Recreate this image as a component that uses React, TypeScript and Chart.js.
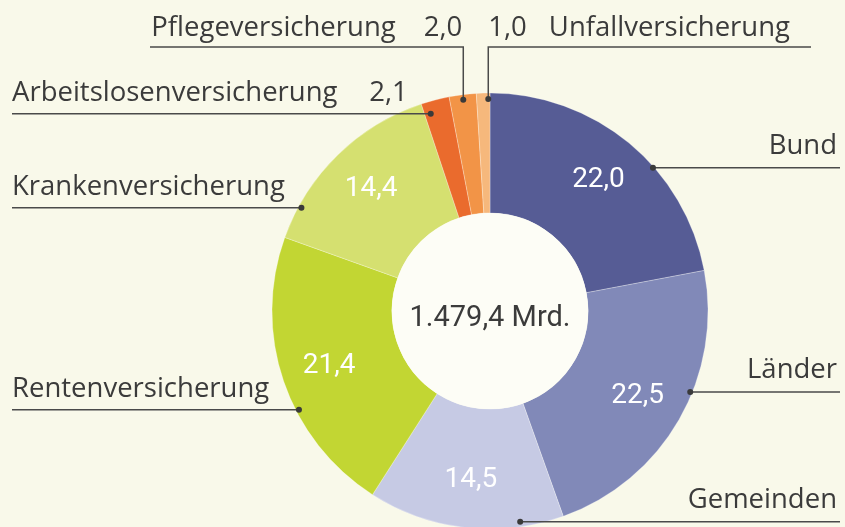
import React, { useEffect, useRef } from "react";
import { Chart, registerables } from "chart.js";

Chart.register(...registerables);

const categories = [
  "Bund",
  "Länder",
  "Gemeinden",
  "Rentenversicherung",
  "Krankenversicherung",
  "Arbeitslosenversicherung",
  "Pflegeversicherung",
  "Unfallversicherung",
];
const shares = [22.0, 22.5, 14.5, 21.4, 14.4, 2.1, 2.0, 1.0];
const valueLabels = ["22,0", "22,5", "14,5", "21,4", "14,4", "2,1", "2,0", "1,0"];
const centerLabel = "1.479,4 Mrd.";

const colors = [
  "#565c95",
  "#8189b8",
  "#c6cae4",
  "#c2d633",
  "#d5e070",
  "#ea6b2d",
  "#f29447",
  "#f6b87c",
];

// annotation layout (label placement only)
const leaderFrac = [0.614, 0.404, 0.22, 0.39, 0.173, 0.22, 0.5, 0.87];
const leaderInset = [1, 2, 5, 3, 3, 12, 5, 6];
const leaderSide = ["right", "right", "right", "left", "left", "left", "topLeft", "topRight"];

const BG = "#f9f9ea";
const TEXT = "#3b3b3b";
const LINE = "#4a4a4a";
const LABEL_FONT = "27.5px 'Open Sans', sans-serif";
const VALUE_FONT = "28px Roboto, sans-serif";
const CENTER_FONT = "29px Roboto, sans-serif";

const labelPlugin = {
  id: "labelPlugin",
  afterDatasetsDraw(chart: any) {
    const ctx = chart.ctx;
    const meta = chart.getDatasetMeta(0);
    const arcs = meta.data;
    if (!arcs.length) return;
    const cx = arcs[0].x;
    const cy = arcs[0].y;
    const inner = arcs[0].innerRadius;
    ctx.save();
    // hole
    ctx.beginPath();
    ctx.arc(cx, cy, inner, 0, Math.PI * 2);
    ctx.fillStyle = "#fdfdf6";
    ctx.fill();
    // center label
    ctx.fillStyle = TEXT;
    ctx.font = CENTER_FONT;
    ctx.textAlign = "center";
    ctx.textBaseline = "alphabetic";
    ctx.fillText(centerLabel, cx, cy + 15);

    arcs.forEach((arc: any, i: number) => {
      const a0 = arc.startAngle;
      const a1 = arc.endAngle;
      const mid = (a0 + a1) / 2;
      const outer = arc.outerRadius;
      // inner value labels for big slices
      if (shares[i] > 5) {
        const r = (arc.innerRadius + outer) / 2 + 12;
        ctx.fillStyle = "#ffffff";
        ctx.font = VALUE_FONT;
        ctx.textAlign = "center";
        ctx.textBaseline = "middle";
        ctx.fillText(valueLabels[i], cx + r * Math.cos(mid), cy + r * Math.sin(mid));
      }
      // leader
      const ang = a0 + (a1 - a0) * leaderFrac[i];
      const rr = outer - leaderInset[i];
      const dx = cx + rr * Math.cos(ang);
      const dy = cy + rr * Math.sin(ang);
      ctx.strokeStyle = LINE;
      ctx.lineWidth = 1.5;
      ctx.fillStyle = TEXT;
      ctx.font = LABEL_FONT;
      ctx.textBaseline = "alphabetic";
      const side = leaderSide[i];
      ctx.beginPath();
      if (side === "right") {
        ctx.moveTo(dx, dy);
        ctx.lineTo(840, dy);
        ctx.stroke();
        ctx.textAlign = "right";
        ctx.fillText(categories[i], 837, dy - 14);
      } else if (side === "left") {
        ctx.moveTo(dx, dy);
        ctx.lineTo(12, dy);
        ctx.stroke();
        ctx.textAlign = "left";
        ctx.fillText(categories[i], 12, dy - 13);
        if (shares[i] <= 5) {
          ctx.textAlign = "right";
          ctx.fillText(valueLabels[i], dx - 23, dy - 13);
        }
      } else if (side === "topLeft") {
        const ly = 47;
        ctx.moveTo(dx, dy);
        ctx.lineTo(dx, ly);
        ctx.lineTo(150, ly);
        ctx.stroke();
        ctx.textAlign = "right";
        ctx.fillText(valueLabels[i], dx - 1, ly - 11);
        const vw = ctx.measureText(valueLabels[i]).width;
        ctx.fillText(categories[i], dx - 1 - vw - 28, ly - 11);
      } else {
        const ly = 47;
        ctx.textAlign = "left";
        ctx.fillText(valueLabels[i], dx, ly - 11);
        const vw = ctx.measureText(valueLabels[i]).width;
        const nx = dx + vw + 22;
        ctx.fillText(categories[i], nx, ly - 11);
        const nw = ctx.measureText(categories[i]).width;
        ctx.beginPath();
        ctx.moveTo(dx, dy);
        ctx.lineTo(dx, ly);
        ctx.lineTo(nx + nw + 21, ly);
        ctx.stroke();
      }
      // dot
      ctx.beginPath();
      ctx.arc(dx, dy, 3, 0, Math.PI * 2);
      ctx.fillStyle = "#3a3a3a";
      ctx.fill();
    });
    ctx.restore();
  },
};

export default function App() {
  const canvasRef = useRef<HTMLCanvasElement | null>(null);

  useEffect(() => {
    document.body.style.margin = "0";
    const canvas = canvasRef.current;
    if (!canvas) return;
    const chart = new Chart(canvas, {
      type: "doughnut",
      data: {
        labels: categories,
        datasets: [
          {
            data: shares,
            backgroundColor: colors,
            borderColor: "rgba(255,255,255,0.35)",
            borderWidth: 0.8,
          },
        ],
      },
      options: {
        responsive: false,
        animation: false,
        devicePixelRatio: 1,
        radius: 218,
        cutout: "45%",
        layout: { padding: { left: 135, right: 0, top: 95, bottom: 0 } },
        plugins: {
          legend: { display: false },
          tooltip: { enabled: false },
        },
      } as any,
      plugins: [labelPlugin],
    });
    Promise.all([
      document.fonts.load(LABEL_FONT),
      document.fonts.load(VALUE_FONT),
    ])
      .then(() => chart.update())
      .catch(() => {});
    return () => chart.destroy();
  }, []);

  return (
    <div style={{ width: 845, height: 527, background: BG, overflow: "hidden" }}>
      <canvas ref={canvasRef} width={845} height={527} />
    </div>
  );
}
